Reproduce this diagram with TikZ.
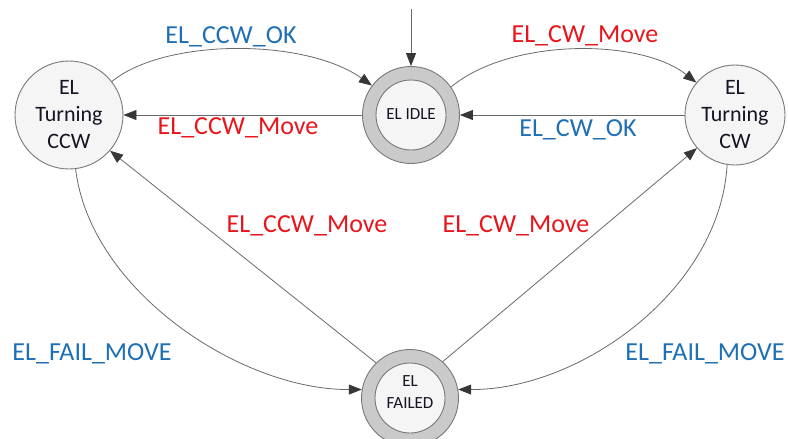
\documentclass[tikz,border=0pt]{standalone}
\usepackage{fontspec}
\setmainfont{Carlito}
\usetikzlibrary{arrows.meta}

\definecolor{lblblue}{RGB}{31,111,181}
\definecolor{lblred}{RGB}{232,22,28}
\definecolor{edgegray}{RGB}{105,105,105}
\definecolor{tipgray}{RGB}{55,55,55}
\definecolor{ringgray}{RGB}{202,202,202}
\definecolor{nodefill}{RGB}{245,245,245}
\definecolor{rimgray}{RGB}{120,120,120}
\definecolor{statetext}{RGB}{20,20,35}

\begin{document}
\begin{tikzpicture}[x=1pt,y=-1pt,
  state/.style={circle, draw=rimgray, fill=nodefill, line width=0.9pt,
    inner sep=0pt, minimum size=#1, align=center, text=statetext,
    font=\fontsize{22}{27}\selectfont},
  ring/.style={circle, draw=rimgray, fill=ringgray, line width=0.9pt,
    inner sep=0pt, minimum size=97pt},
  core/.style={circle, draw=rimgray, fill=nodefill, line width=0.9pt,
    inner sep=0pt, minimum size=70pt},
  coretext/.style={align=center, inner sep=0pt, text=statetext,
    font=\fontsize{17}{22}\selectfont},
  edge/.style={draw=edgegray, line width=0.8pt,
    -{Triangle[length=13pt,width=10pt,color=tipgray]}},
  lbl/.style={anchor=base, inner sep=0pt, font=\fontsize{26}{31}\selectfont}
]
\useasboundingbox (0,0) rectangle (788,439);

% states
\node[state=108pt] (ccw) at (69,115) {EL\\Turning\\CCW};
\node[state=100pt] (cw) at (735,115) {EL\\Turning\\CW};

\node[ring] (idle) at (411,115) {};
\node[core] (idlecore) at (411,115) {};
\node[coretext] (idletext) at (411,114) {EL IDLE};

\node[ring] (failed) at (410,398) {};
\node[core] (failedcore) at (410,398) {};
\node[coretext] (failedtext) at (410,392) {EL\\FAILED};

% initial transition
\coordinate (start) at (411,9);
\draw[edge] (start) -- (idle.north);

% transitions between the top states
\draw[edge] (ccw.38) .. controls (165,38) and (305,38) .. (idle.143);
\draw[edge] (idle.west) -- (ccw.east);
\draw[edge] (idle.35) .. controls (510,38) and (640,38) .. (cw.140);
\draw[edge] (cw.west) -- (idle.east);

% transitions out of the failed state
\draw[edge] (failed.134) -- (ccw.-41);
\draw[edge] (failed.48) -- (cw.221);

% transitions into the failed state
\draw[edge] (ccw.-83) .. controls (90,290) and (240,390) .. (failed.170);
\draw[edge] (cw.-99) .. controls (720,290) and (580,390) .. (failed.10);

% transition labels
\node[lbl, text=lblblue] (lccwok) at (231,43) {EL\_CCW\_OK};
\node[lbl, text=lblred] (lccwmove) at (238,134) {EL\_CCW\_Move};
\node[lbl, text=lblred] (lcwmove) at (585,42) {EL\_CW\_Move};
\node[lbl, text=lblblue] (lcwok) at (578,136) {EL\_CW\_OK};
\node[lbl, text=lblred] (lccwmove2) at (307,232) {EL\_CCW\_Move};
\node[lbl, text=lblred] (lcwmove2) at (516,232) {EL\_CW\_Move};
\node[lbl, text=lblblue] (lfaill) at (92,360) {EL\_FAIL\_MOVE};
\node[lbl, text=lblblue] (lfailr) at (705,360) {EL\_FAIL\_MOVE};
\end{tikzpicture}
\end{document}
